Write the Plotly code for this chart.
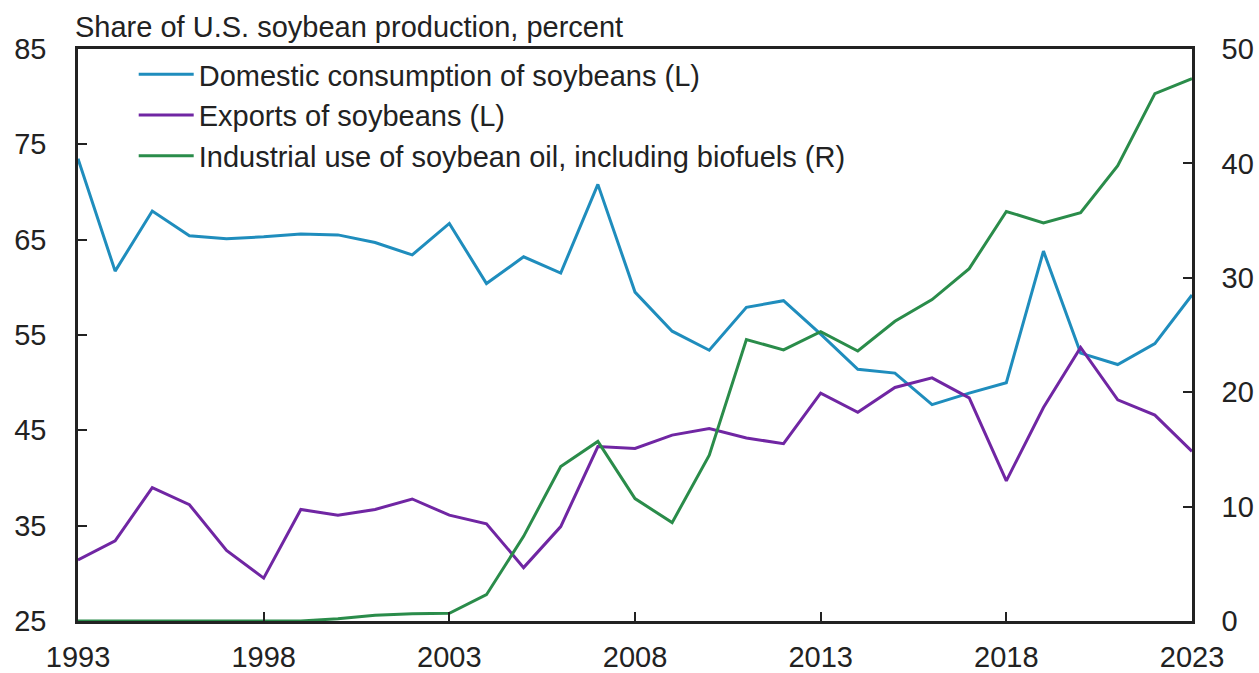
import plotly.graph_objects as go

years = list(range(1993, 2024))

domestic = [73.5, 61.7, 68.0, 65.4, 65.1, 65.3, 65.6, 65.5, 64.7, 63.4,
            66.7, 60.4, 63.2, 61.5, 70.8, 59.5, 55.4, 53.4, 57.9, 58.6,
            55.1, 51.4, 51.0, 47.7, 48.9, 50.0, 63.8, 53.1, 51.9, 54.1, 59.2]

exports = [31.4, 33.4, 39.0, 37.2, 32.4, 29.5, 36.7, 36.1, 36.7, 37.8,
           36.1, 35.2, 30.6, 34.9, 43.3, 43.1, 44.5, 45.2, 44.2, 43.6,
           48.9, 46.9, 49.5, 50.5, 48.4, 39.7, 47.4, 53.7, 48.2, 46.6, 42.8]

industrial = [0, 0, 0, 0, 0, 0, 0, 0.2, 0.5, 0.64,
              0.67, 2.3, 7.4, 13.5, 15.7, 10.7, 8.6, 14.5, 24.6, 23.7,
              25.3, 23.6, 26.2, 28.1, 30.8, 35.8, 34.8, 35.7, 39.8, 46.1, 47.4]

names = ["Domestic consumption of soybeans (L)",
         "Exports of soybeans (L)",
         "Industrial use of soybean oil, including biofuels (R)"]
colors = ["#1f8dbd", "#7026a3", "#2a8c4a"]

FONT = "Liberation Sans, Arial, sans-serif"
FS = 29

fig = go.Figure()
fig.add_trace(go.Scatter(x=years, y=domestic, name=names[0], mode="lines",
                         line=dict(color=colors[0], width=3), legendgroup="a"))
fig.add_trace(go.Scatter(x=years, y=exports, name=names[1], mode="lines",
                         line=dict(color=colors[1], width=3), legendgroup="b"))
fig.add_trace(go.Scatter(x=years, y=industrial, name=names[2], mode="lines",
                         line=dict(color=colors[2], width=3), legendgroup="c",
                         yaxis="y2"))

fig.update_layout(
    width=1259, height=673,
    margin=dict(l=78, r=67, t=49, b=52),
    paper_bgcolor="white", plot_bgcolor="white",
    font=dict(family=FONT, size=FS, color="#222222"),
    showlegend=True,
    legend=dict(x=0.05, y=1.0, xanchor="left", yanchor="top",
                bgcolor="rgba(0,0,0,0)", font=dict(size=FS, family=FONT, color="#222222"),
                tracegroupgap=0, itemwidth=55),
    xaxis=dict(range=[1993, 2023], tickvals=[1993, 1998, 2003, 2008, 2013, 2018, 2023],
               ticks="inside", ticklen=9, tickwidth=2, tickcolor="#222222",
               showline=True, linecolor="#222222", linewidth=2.5, mirror=True,
               showgrid=False, zeroline=False, ticklabelstandoff=8, automargin=False),
    yaxis=dict(range=[25, 85], tickvals=[25, 35, 45, 55, 65, 75, 85],
               ticks="inside", ticklen=9, tickwidth=2, tickcolor="#222222",
               showline=True, linecolor="#222222", linewidth=2.5, mirror=True,
               showgrid=False, zeroline=False, ticklabelstandoff=23, automargin=False),
    yaxis2=dict(range=[0, 50], tickvals=[0, 10, 20, 30, 40, 50], overlaying="y", side="right",
                ticks="inside", ticklen=9, tickwidth=2, tickcolor="#222222",
                showline=True, linecolor="#222222", linewidth=2.5,
                showgrid=False, zeroline=False, ticklabelstandoff=21, automargin=False),
    annotations=[dict(text="Share of U.S. soybean production, percent",
                      xref="paper", yref="paper", x=0, y=1, xanchor="left", yanchor="bottom",
                      xshift=-5, yshift=4, showarrow=False,
                      font=dict(size=FS, family=FONT, color="#222222"))],
)

fig.write_html("out.html", config={"displayModeBar": False},
               post_script="document.body.style.margin='0';document.body.style.overflow='hidden';")
